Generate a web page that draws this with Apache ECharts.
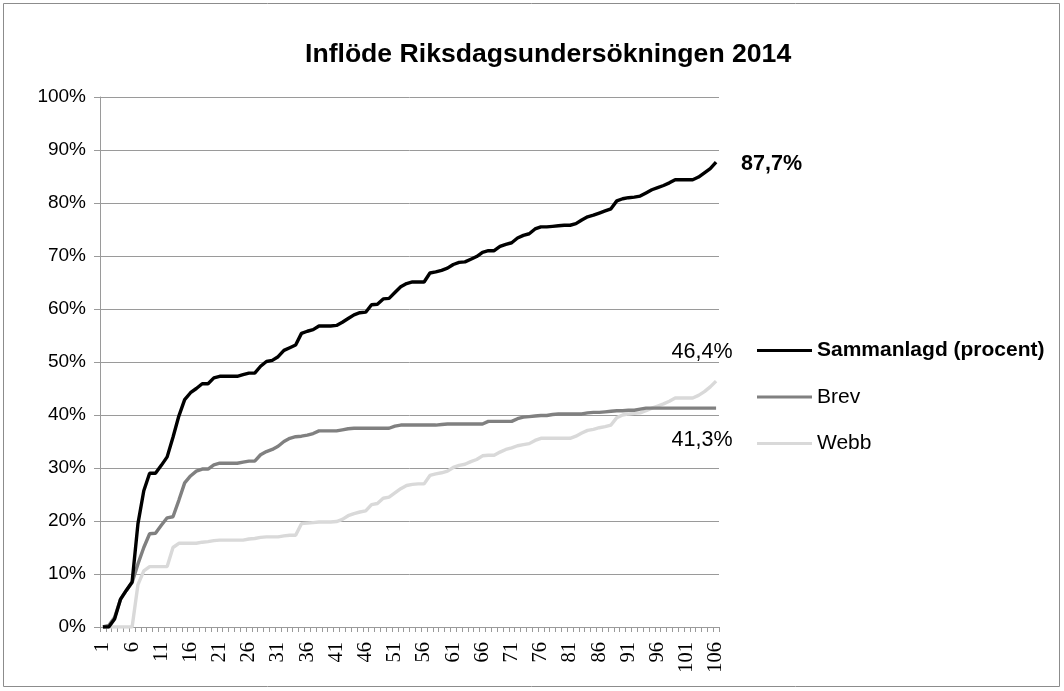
<!DOCTYPE html>
<html>
<head>
<meta charset="utf-8">
<script src="https://cdn.jsdelivr.net/npm/echarts@6/dist/echarts.min.js"></script>
<style>
html,body{margin:0;padding:0;background:#fff;}
#chart{width:1064px;height:691px;}
</style>
</head>
<body>
<div id="chart"></div>
<script>
// Categories 1..106 (days)
const categories = [];
for (let i = 1; i <= 106; i++) categories.push(String(i));

const sammanlagd = [
  0, 0, 1.5, 5.2, 6.9, 8.5, 19.5, 25.7, 29.0, 29.0,
  30.5, 32.1, 35.8, 39.8, 42.9, 44.2, 45.0, 45.9, 45.9, 47.0,
  47.3, 47.3, 47.3, 47.3, 47.6, 47.9, 47.9, 49.2, 50.1, 50.3,
  51.0, 52.2, 52.7, 53.2, 55.4, 55.8, 56.1, 56.8, 56.8, 56.8,
  56.9, 57.5, 58.2, 58.9, 59.3, 59.4, 60.8, 60.9, 61.9, 62.0,
  63.1, 64.2, 64.8, 65.1, 65.1, 65.1, 66.8, 67.0, 67.3, 67.7,
  68.4, 68.8, 68.9, 69.4, 69.9, 70.7, 71.0, 71.0, 71.8, 72.2,
  72.5, 73.4, 73.9, 74.2, 75.1, 75.5, 75.5, 75.6, 75.7, 75.8,
  75.8, 76.1, 76.8, 77.4, 77.7, 78.1, 78.5, 78.9, 80.4, 80.8,
  81.0, 81.1, 81.3, 81.9, 82.5, 82.9, 83.3, 83.8, 84.4, 84.4,
  84.4, 84.4, 84.9, 85.7, 86.5, 87.7
];

const brev = [
  0, 0.3, 1.8, 5.2, 6.9, 8.4, 11.9, 15.0, 17.6, 17.7,
  19.2, 20.6, 20.8, 23.9, 27.2, 28.5, 29.4, 29.8, 29.8, 30.6,
  30.9, 30.9, 30.9, 30.9, 31.1, 31.3, 31.3, 32.5, 33.1, 33.5,
  34.1, 35.0, 35.6, 35.9, 36.0, 36.2, 36.5, 37.0, 37.0, 37.0,
  37.0, 37.2, 37.4, 37.5, 37.5, 37.5, 37.5, 37.5, 37.5, 37.5,
  37.9, 38.1, 38.1, 38.1, 38.1, 38.1, 38.1, 38.1, 38.2, 38.3,
  38.3, 38.3, 38.3, 38.3, 38.3, 38.3, 38.8, 38.8, 38.8, 38.8,
  38.8, 39.3, 39.6, 39.7, 39.8, 39.9, 39.9, 40.1, 40.2, 40.2,
  40.2, 40.2, 40.2, 40.4, 40.5, 40.5, 40.6, 40.7, 40.8, 40.8,
  40.9, 40.9, 41.1, 41.3, 41.3, 41.3, 41.3, 41.3, 41.3, 41.3,
  41.3, 41.3, 41.3, 41.3, 41.3, 41.3
];

const webb = [
  0, 0, 0, 0, 0, 0, 8.0, 10.6, 11.4, 11.4,
  11.4, 11.4, 15.0, 15.8, 15.8, 15.8, 15.8, 16.0, 16.1, 16.3,
  16.4, 16.4, 16.4, 16.4, 16.4, 16.6, 16.7, 16.9, 17.0, 17.0,
  17.0, 17.2, 17.3, 17.3, 19.5, 19.6, 19.7, 19.8, 19.8, 19.8,
  19.9, 20.3, 21.0, 21.4, 21.7, 21.9, 23.1, 23.3, 24.3, 24.5,
  25.3, 26.1, 26.7, 26.9, 27.0, 27.0, 28.6, 28.9, 29.1, 29.4,
  30.1, 30.5, 30.7, 31.2, 31.6, 32.3, 32.4, 32.4, 33.0, 33.5,
  33.8, 34.2, 34.4, 34.6, 35.2, 35.6, 35.6, 35.6, 35.6, 35.6,
  35.6, 36.0, 36.6, 37.1, 37.3, 37.6, 37.8, 38.1, 39.5, 40.0,
  40.2, 40.3, 40.4, 40.8, 41.3, 41.7, 42.1, 42.6, 43.2, 43.2,
  43.2, 43.2, 43.7, 44.4, 45.3, 46.4
];

const seriesNames = ['Sammanlagd (procent)', 'Brev', 'Webb'];
const titleText = 'Inflöde Riksdagsundersökningen 2014';

const fmtPct = (p) => p.value.toFixed(1).replace('.', ',') + '%';
const SANS = '"Liberation Sans", Arial, sans-serif';

const chart = echarts.init(document.getElementById('chart'), null, {renderer: 'canvas'});
chart.setOption({
  animation: false,
  backgroundColor: '#ffffff',
  graphic: [{
    type: 'rect', silent: true,
    shape: {x: 3.5, y: 3.5, width: 1056, height: 683},
    style: {fill: 'none', stroke: '#8c8c8c', lineWidth: 1}
  }],
  title: {
    text: titleText,
    left: 300, top: 36,
    textStyle: {fontFamily: SANS, fontSize: 26.6, fontWeight: 'bold', color: '#000'}
  },
  grid: {left: 100, right: 345, top: 97, bottom: 64, containLabel: false},
  legend: {
    orient: 'vertical',
    left: 757, top: 340, padding: 0,
    itemWidth: 55, itemHeight: 14, itemGap: 25.5,
    icon: 'path://M0,6 L55,6 L55,9 L0,9 Z',
    data: seriesNames,
    formatter: (name) => name === seriesNames[0] ? '{b|' + name + '}' : '{n|' + name + '}',
    textStyle: {
      fontFamily: SANS, fontSize: 21, color: '#000',
      rich: {
        b: {fontFamily: SANS, fontSize: 21, fontWeight: 'bold', color: '#000'},
        n: {fontFamily: SANS, fontSize: 21, color: '#000'}
      }
    }
  },
  xAxis: {
    type: 'category',
    data: categories,
    boundaryGap: true,
    axisLine: {show: true, lineStyle: {color: '#9a9a9a', width: 1}},
    axisTick: {show: true, interval: 0, length: 5, lineStyle: {color: '#9a9a9a'}},
    axisLabel: {
      interval: 4, rotate: 90, margin: 15,
      fontFamily: '"Liberation Serif", "Times New Roman", serif',
      fontSize: 20.5, color: '#000'
    },
    splitLine: {show: false}
  },
  yAxis: {
    type: 'value',
    min: 0, max: 100, interval: 10,
    axisLine: {show: true, lineStyle: {color: '#9a9a9a', width: 1}},
    axisTick: {show: true, length: 6, lineStyle: {color: '#9a9a9a'}},
    axisLabel: {
      formatter: '{value}%', margin: 14,
      fontFamily: SANS, fontSize: 19, color: '#000'
    },
    splitLine: {show: true, lineStyle: {color: '#9a9a9a', width: 1}}
  },
  series: [
    {
      name: seriesNames[0], type: 'line', data: sammanlagd,
      symbol: 'none', smooth: false, z: 5,
      lineStyle: {color: '#000000', width: 3.4},
      itemStyle: {color: '#000000'},
      endLabel: {
        show: true, formatter: fmtPct, distance: 0,
        align: 'left', verticalAlign: 'middle', offset: [25, 2],
        fontFamily: SANS, fontSize: 21.5, fontWeight: 'bold', color: '#000'
      }
    },
    {
      name: seriesNames[1], type: 'line', data: brev,
      symbol: 'none', smooth: false, z: 4,
      lineStyle: {color: '#808080', width: 3.4},
      itemStyle: {color: '#808080'},
      endLabel: {
        show: true, formatter: fmtPct, distance: 0,
        align: 'center', verticalAlign: 'middle', offset: [-14, 32],
        fontFamily: SANS, fontSize: 21.5, color: '#000'
      }
    },
    {
      name: seriesNames[2], type: 'line', data: webb,
      symbol: 'none', smooth: false, z: 3,
      lineStyle: {color: '#d9d9d9', width: 3.4},
      itemStyle: {color: '#d9d9d9'},
      endLabel: {
        show: true, formatter: fmtPct, distance: 0,
        align: 'center', verticalAlign: 'middle', offset: [-14, -29],
        fontFamily: SANS, fontSize: 21.5, color: '#000'
      }
    }
  ]
});
</script>
</body>
</html>
